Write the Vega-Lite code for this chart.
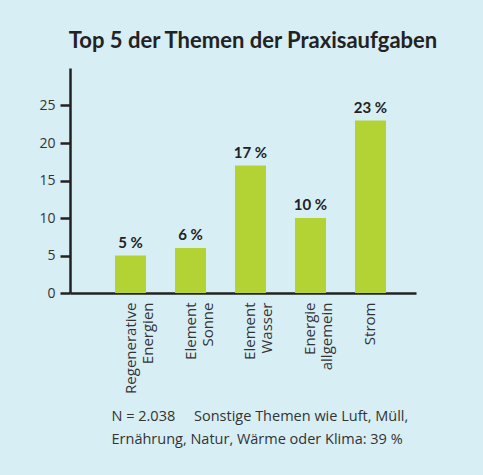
{
  "$schema": "https://vega.github.io/schema/vega-lite/v6.json",
  "autosize": "none",
  "width": 346,
  "height": 225,
  "padding": {"left": 70, "top": 68, "right": 67, "bottom": 182},
  "background": "#d8eef5",
  "config": {
    "view": {"stroke": null},
    "font": "Open Sans"
  },
  "title": {
    "text": "Top 5 der Themen der Praxisaufgaben",
    "font": "Lato",
    "fontSize": 22,
    "fontWeight": "bold",
    "color": "#222222",
    "anchor": "middle",
    "dx": 10,
    "offset": 15
  },
  "data": {
    "values": [
      {"thema": "Regenerative|Energien", "wert": 5, "label": "5 %"},
      {"thema": "Element|Sonne", "wert": 6, "label": "6 %"},
      {"thema": "Element|Wasser", "wert": 17, "label": "17 %"},
      {"thema": "Energie|allgemein", "wert": 10, "label": "10 %"},
      {"thema": "Strom", "wert": 23, "label": "23 %"}
    ]
  },
  "encoding": {
    "x": {
      "field": "thema",
      "type": "nominal",
      "sort": null,
      "scale": {"paddingInner": 0.483, "paddingOuter": 0.625, "align": 0.6},
      "axis": {
        "labelAngle": -90,
        "labelExpr": "split(datum.label, '|')",
        "labelFontSize": 15,
        "labelColor": "#333333",
        "labelPadding": 9,
        "labelLineHeight": 17,
        "ticks": false,
        "domainColor": "#222222",
        "domainWidth": 2.5,
        "title": ["N = 2.038\u00a0\u00a0\u00a0\u00a0 Sonstige Themen wie Luft, Müll,", "Ernährung, Natur, Wärme oder Klima: 39 %"],
        "titleFont": "Open Sans",
        "titleFontSize": 14.5,
        "titleFontWeight": "normal",
        "titleColor": "#333333",
        "titleAnchor": "start",
        "titleAlign": "left",
        "titleBaseline": "top",
        "titleX": 41,
        "titleY": 116,
        "titleLineHeight": 23
      }
    },
    "y": {
      "field": "wert",
      "type": "quantitative",
      "scale": {"domain": [0, 30], "nice": false},
      "axis": {
        "values": [0, 5, 10, 15, 20, 25],
        "title": null,
        "grid": false,
        "labelFontSize": 14,
        "labelColor": "#333333",
        "labelPadding": 5,
        "tickSize": 10,
        "tickWidth": 2.5,
        "tickColor": "#222222",
        "domainColor": "#222222",
        "domainWidth": 2.5
      }
    }
  },
  "layer": [
    {"mark": {"type": "bar", "color": "#b3d334"}},
    {
      "mark": {"type": "text", "dy": -8, "baseline": "alphabetic", "font": "Lato", "fontSize": 15, "fontWeight": "bold", "color": "#222222"},
      "encoding": {"text": {"field": "label"}}
    }
  ]
}
